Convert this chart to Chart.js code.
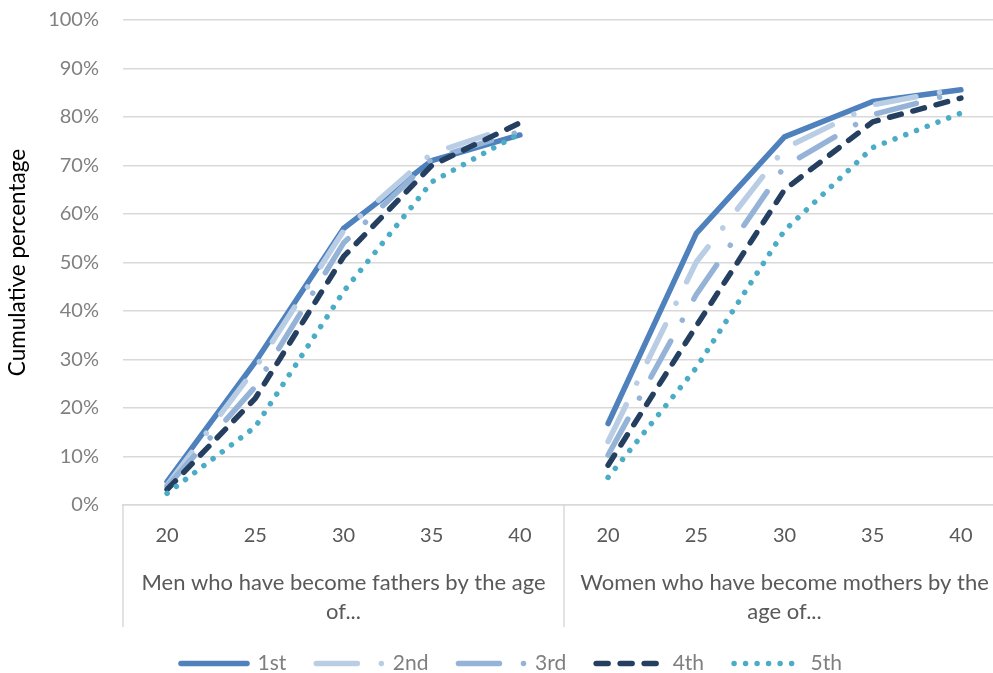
<!DOCTYPE html>
<html>
<head>
<meta charset="utf-8">
<script src="https://cdn.jsdelivr.net/npm/chart.js@4.4.1/dist/chart.umd.min.js"></script>
<style>
html,body{margin:0;padding:0;overflow:hidden;background:#ffffff;}
#wrap{width:1020px;height:673px;}
</style>
</head>
<body>
<div id="wrap"><canvas id="c" width="1020" height="673"></canvas></div>
<script>
// Category (age) tick labels: men 20..40, then women 20..40
const ageLabels = ['20', '25', '30', '35', '40', '20', '25', '30', '35', '40'];
// Group labels of the second category level
const groupLabels = [
  ['Men who have become fathers by the age', 'of...'],
  ['Women who have become mothers by the', 'age of...']
];
const seriesNames = ['1st', '2nd', '3rd', '4th', '5th'];
// Cumulative percentage (men 20..40, women 20..40)
const first  = [4.8, 29.5, 57.0, 71.0, 76.3, 16.8, 56.0, 75.9, 83.2, 85.6];
const second = [4.1, 28.2, 56.5, 72.5, 78.5, 13.1, 50.1, 73.5, 82.5, 85.9];
const third  = [3.8, 24.4, 54.0, 71.3, 77.0, 10.3, 43.4, 69.8, 80.5, 85.2];
const fourth = [3.2, 22.0, 51.2, 70.0, 78.8,  8.2, 36.9, 65.0, 79.0, 83.9];
const fifth  = [2.4, 16.1, 44.0, 66.6, 76.6,  5.7, 28.3, 56.6, 73.7, 80.8];
const yTicks = [0, 10, 20, 30, 40, 50, 60, 70, 80, 90, 100];

const colors = ['#4F81BD', '#B9CDE5', '#95B3D7', '#243F60', '#4BACC6'];
const dashes = [[], [41, 24, 0.01, 24], [41, 24, 0.01, 24], [12, 12], [0.01, 11.5]];
const seriesData = [first, second, third, fourth, fifth];

const FONT = 'Lato';
const LINE_W = 5.5;

// skip the segment joining the two groups
const gapSegment = {
  borderColor: ctx => (ctx.p0DataIndex === 4 ? 'rgba(0,0,0,0)' : undefined)
};

const datasets = seriesData.map((d, i) => ({
  label: seriesNames[i],
  data: d,
  borderColor: colors[i],
  backgroundColor: colors[i],
  borderWidth: LINE_W,
  borderDash: dashes[i],
  borderCapStyle: 'round',
  borderJoinStyle: 'round',
  pointRadius: 0,
  pointHoverRadius: 0,
  tension: 0,
  fill: false,
  order: 5 - i,
  segment: gapSegment
}));

const separatorPlugin = {
  id: 'groupSeparators',
  afterDraw(chart) {
    const xs = chart.scales.x;
    const x2 = chart.scales.x2;
    const ctx = chart.ctx;
    const top = chart.chartArea.bottom;
    const bottom = x2.bottom + 4;
    const mid = (xs.getPixelForValue(4) + xs.getPixelForValue(5)) / 2;
    ctx.save();
    ctx.strokeStyle = '#d9d9d9';
    ctx.lineWidth = 1.5;
    [xs.left, mid, xs.right].forEach(px => {
      ctx.beginPath();
      ctx.moveTo(px, top);
      ctx.lineTo(px, bottom);
      ctx.stroke();
    });
    ctx.restore();
  }
};

new Chart(document.getElementById('c'), {
  type: 'line',
  data: { labels: ageLabels, datasets: datasets },
  plugins: [separatorPlugin],
  options: {
    responsive: false,
    animation: false,
    layout: { padding: { left: 18, right: 15, top: 20, bottom: 0 } },
    plugins: {
      tooltip: { enabled: false },
      legend: {
        position: 'bottom',
        maxHeight: 50,
        labels: {
          usePointStyle: true,
          pointStyle: 'line',
          pointStyleWidth: 66,
          color: '#7f7f7f',
          padding: 30,
          font: { family: FONT, size: 21 },
          generateLabels: chart => chart.data.datasets.map((ds, i) => ({
            text: ds.label,
            fillStyle: ds.borderColor,
            strokeStyle: ds.borderColor,
            lineWidth: ds.borderWidth,
            lineDash: ds.borderDash,
            lineCap: 'round',
            lineJoin: 'round',
            pointStyle: 'line',
            fontColor: '#7f7f7f',
            hidden: false,
            datasetIndex: i
          })),
          sort: (a, b) => a.datasetIndex - b.datasetIndex
        }
      }
    },
    scales: {
      x: {
        type: 'category',
        offset: true,
        weight: 1,
        grid: { display: false, drawTicks: false },
        border: { display: true, color: '#d9d9d9', width: 1.5 },
        ticks: {
          color: '#595959',
          font: { family: FONT, size: 20, lineHeight: 1.2 },
          padding: 19,
          autoSkip: false,
          maxRotation: 0
        },
        afterFit: s => { s.height = 48; }
      },
      x2: {
        type: 'category',
        position: 'bottom',
        labels: groupLabels,
        offset: true,
        weight: 2,
        grid: { display: false, drawTicks: false },
        border: { display: false },
        ticks: {
          color: '#595959',
          font: { family: FONT, size: 22, lineHeight: 29 / 22 },
          padding: 15,
          autoSkip: false,
          maxRotation: 0
        },
        afterFit: s => { s.height = 70; }
      },
      y: {
        min: yTicks[0],
        max: yTicks[yTicks.length - 1],
        afterBuildTicks: s => { s.ticks = yTicks.map(v => ({ value: v })); },
        ticks: {
          callback: v => v + '%',
          color: '#808080',
          font: { family: FONT, size: 20 },
          padding: 0
        },
        grid: {
          color: '#d9d9d9',
          lineWidth: 1.5,
          drawTicks: true,
          tickLength: 24,
          tickColor: 'rgba(0,0,0,0)'
        },
        border: { display: false },
        title: {
          display: true,
          text: 'Cumulative percentage',
          color: '#000000',
          font: { family: FONT, size: 22.5, lineHeight: 1.2 },
          padding: { top: -13.5, bottom: 0 }
        },
        afterFit: s => { s.width = 105; }
      }
    }
  }
});
</script>
</body>
</html>
